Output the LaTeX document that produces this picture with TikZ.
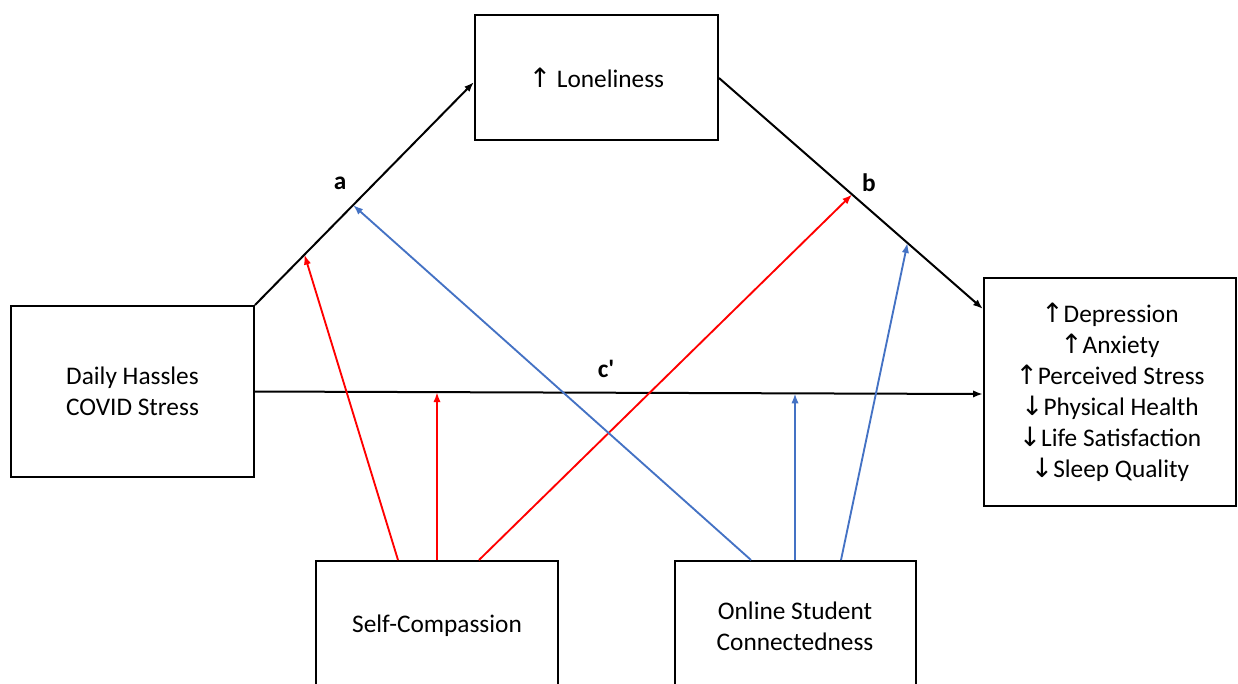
\documentclass[tikz,border=0pt]{standalone}
\usepackage{fontspec}
\setmainfont{Carlito}
\newfontfamily\arrowfont{DejaVu Sans}
\newfontfamily\lblfont{Carlito}[Ligatures=TeXOff]
\usetikzlibrary{arrows.meta,calc}
\definecolor{modred}{RGB}{255,0,0}
\definecolor{modblue}{RGB}{68,114,196}
\newcommand{\upa}{{\arrowfont\fontsize{20}{20}\selectfont\char"2191}}
\newcommand{\dna}{{\arrowfont\fontsize{20}{20}\selectfont\char"2193}}
\begin{document}
\begin{tikzpicture}[x=0.75pt,y=-0.75pt,
  box/.style={draw,line width=1.5pt,inner sep=0pt,align=center,
    font=\fontsize{19}{23.2}\selectfont},
  mainpath/.style={draw,line width=1.5pt,-{Latex[length=7.5pt,width=5.5pt]}},
  redmod/.style={draw=modred,line width=1.4pt,-{Latex[length=7.5pt,width=5.5pt]},modred},
  bluemod/.style={draw=modblue,line width=1.4pt,-{Latex[length=7.5pt,width=5.5pt]},modblue},
  lbl/.style={font=\lblfont\bfseries\fontsize{19}{23}\selectfont,inner sep=0pt}]
\useasboundingbox (0,0) rectangle (1238,683);
\clip (0,0) rectangle (1238,683);

% variables
\node[box,minimum width=182.25pt,minimum height=93.75pt] (lon) at (596.5,77.5) {\upa\ Loneliness};
\node[box,minimum width=182.25pt,minimum height=128.25pt] (dh) at (132.5,391.5) {Daily Hassles\\COVID Stress};
\node[box,minimum width=189pt,minimum height=171pt] (out) at (1110,392)
  {\upa Depression\\\upa Anxiety\\\upa Perceived Stress\\\dna Physical Health\\\dna Life Satisfaction\\\dna Sleep Quality};
\node[box,minimum width=181.5pt,minimum height=97.5pt] (sc) at (437,626) {Self-Compassion};
\node[box,minimum width=180.75pt,minimum height=97.5pt] (osc) at (795,626) {Online Student\\Connectedness};

% direct and indirect paths
\draw[mainpath] (dh.north east) -- coordinate[pos=0.226] (a1) coordinate[pos=0.448] (a2)
  ($(lon.west)+(0,4.5)$);
\draw[mainpath] ($(lon.east)+(0,0.5)$) -- coordinate[pos=0.504] (b1) coordinate[pos=0.714] (b2)
  ($(out.north west)+(0,32)$);
\draw[mainpath] (dh.east) -- coordinate[pos=0.2507] (c1) coordinate[pos=0.7406] (c2) ($(out.west)+(0,2)$);

% path labels
\node[lbl] (la) at (340,183) {a};
\node[lbl] (lb) at (869,183) {b};
\node[lbl] (lc) at (606,369) {c'};

% moderation by self-compassion
\draw[redmod] ($(sc.north)+(-39,0)$) -- (a1);
\draw[redmod] (sc.north) -- (sc.north |- c1);
\draw[redmod] ($(sc.north)+(42,0)$) -- (b1);

% moderation by online student connectedness
\draw[bluemod] ($(osc.north)+(-44,0)$) -- (a2);
\draw[bluemod] (osc.north) -- (osc.north |- c2);
\draw[bluemod] ($(osc.north)+(46,0)$) -- (b2);
\end{tikzpicture}
\end{document}
